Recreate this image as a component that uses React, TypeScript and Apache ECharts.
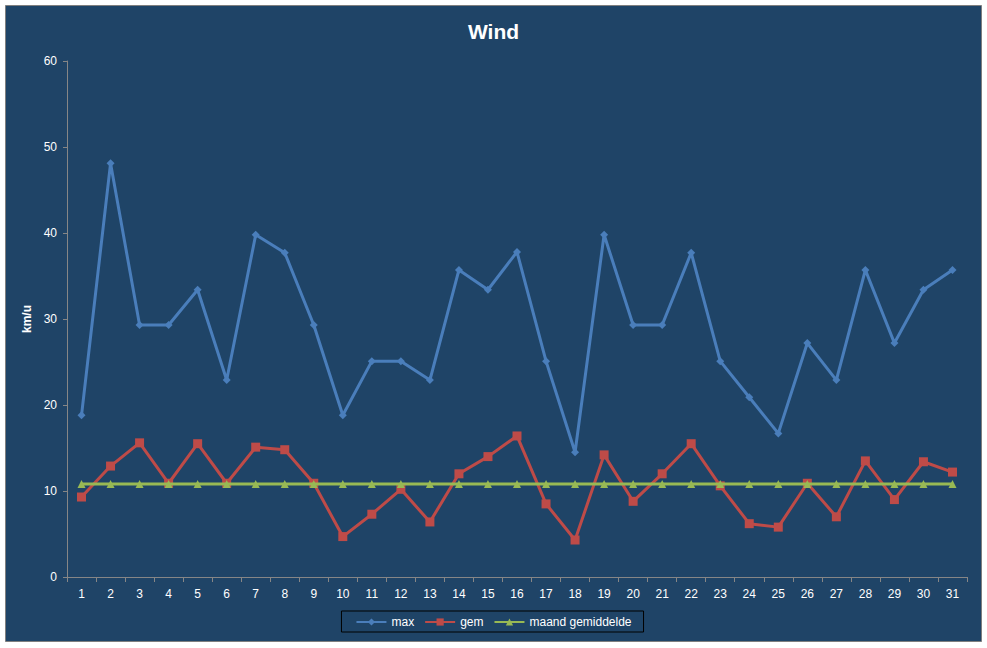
import React, { useEffect, useRef } from "react";
import * as echarts from "echarts";

const days = Array.from({ length: 31 }, (_, i) => String(i + 1));
const maxValues = [18.8, 48.1, 29.3, 29.3, 33.4, 22.9, 39.8, 37.7, 29.3, 18.8, 25.1, 25.1, 22.9, 35.7, 33.4, 37.8, 25.1, 14.5, 39.8, 29.3, 29.3, 37.7, 25.1, 20.9, 16.7, 27.2, 22.9, 35.7, 27.2, 33.4, 35.7];
const gemValues = [9.3, 12.9, 15.6, 10.9, 15.5, 10.9, 15.1, 14.8, 10.9, 4.7, 7.3, 10.2, 6.4, 12.0, 14.0, 16.4, 8.5, 4.3, 14.2, 8.8, 12.0, 15.5, 10.6, 6.2, 5.8, 10.9, 7.0, 13.5, 9.0, 13.4, 12.2];
const maandGem = 10.8;
const maandValues = days.map(() => maandGem);

const FONT = "Liberation Sans";

export default function App() {
  const ref = useRef<HTMLDivElement>(null);
  useEffect(() => {
    document.body.style.margin = "0";
    const chart = echarts.init(ref.current!, null, { renderer: "svg" });
    chart.setOption({
      animation: false,
      backgroundColor: "#ffffff",
      textStyle: { fontFamily: FONT },
      graphic: [
        {
          type: "rect",
          z: -10,
          shape: { x: 5.5, y: 5.5, width: 976, height: 636 },
          style: { fill: "#1F4467", stroke: "#7f7f7f", lineWidth: 1 },
          silent: true,
        },
      ],
      title: {
        text: "Wind",
        left: "center",
        top: 16,
        textStyle: { color: "#ffffff", fontSize: 21, fontWeight: "bold", fontFamily: FONT },
      },
      grid: { left: 67, right: 20, top: 61, bottom: 71, containLabel: false },
      legend: {
        left: "center",
        top: 611,
        padding: [5, 12, 4, 14],
        borderColor: "#000000",
        borderWidth: 1,
        itemWidth: 30,
        itemHeight: 9,
        itemGap: 10,
        textStyle: { color: "#ffffff", fontSize: 12, fontFamily: FONT },
        data: ["max", "gem", "maand gemiddelde"],
      },
      xAxis: {
        type: "category",
        data: days,
        boundaryGap: true,
        axisLine: { lineStyle: { color: "#868686", width: 1 } },
        axisTick: { show: true, length: 5, alignWithLabel: false, lineStyle: { color: "#868686" } },
        axisLabel: { color: "#ffffff", fontSize: 12, margin: 11, interval: 0, fontFamily: FONT },
        splitLine: { show: false },
      },
      yAxis: {
        type: "value",
        min: 0,
        max: 60,
        interval: 10,
        name: "km/u",
        nameLocation: "middle",
        nameGap: 31,
        nameRotate: 90,
        nameTextStyle: { color: "#ffffff", fontSize: 12, fontWeight: "bold", fontFamily: FONT },
        axisLine: { show: true, lineStyle: { color: "#868686", width: 1 } },
        axisTick: { show: true, length: 4, lineStyle: { color: "#868686" } },
        axisLabel: { color: "#ffffff", fontSize: 12, margin: 10, fontFamily: FONT },
        splitLine: { show: false },
      },
      series: [
        {
          name: "max",
          type: "line",
          data: maxValues,
          symbol: "diamond",
          symbolSize: 8,
          lineStyle: { color: "#4A7EBB", width: 3 },
          itemStyle: { color: "#4A7EBB" },
          z: 3,
        },
        {
          name: "gem",
          type: "line",
          data: gemValues,
          symbol: "rect",
          symbolSize: 9,
          lineStyle: { color: "#BE4B48", width: 3 },
          itemStyle: { color: "#BE4B48" },
          z: 2,
        },
        {
          name: "maand gemiddelde",
          type: "line",
          data: maandValues,
          symbol: "triangle",
          symbolSize: 8,
          lineStyle: { color: "#98B954", width: 3 },
          itemStyle: { color: "#98B954" },
          z: 4,
        },
      ],
    });
    return () => chart.dispose();
  }, []);
  return <div ref={ref} style={{ width: 987, height: 648 }} />;
}
